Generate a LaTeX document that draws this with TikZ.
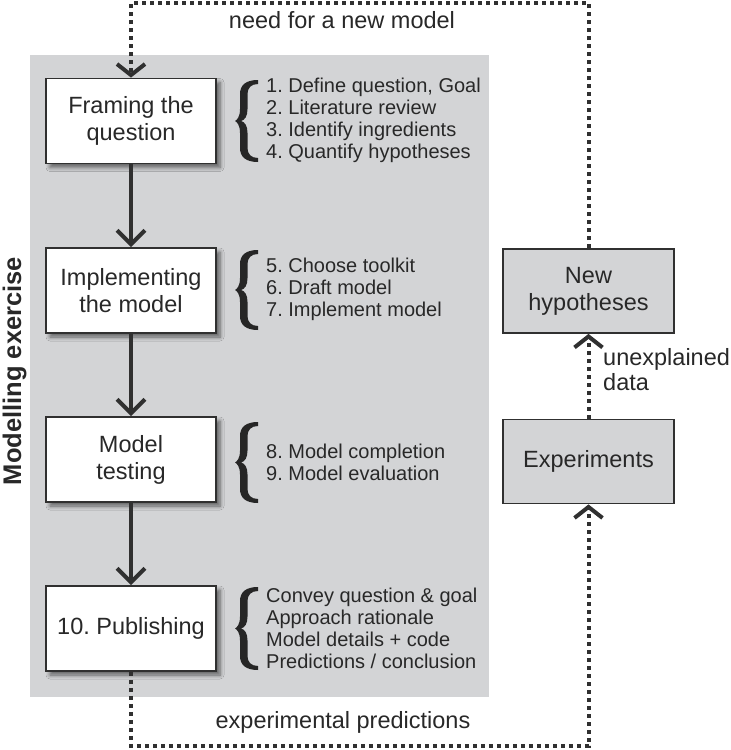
\documentclass[tikz,border=0pt]{standalone}
\usepackage{fontspec}
\setmainfont{Liberation Sans}
\frenchspacing
\usetikzlibrary{arrows.meta,shadows.blur}
\definecolor{bgray}{RGB}{211,212,214}
\definecolor{ink}{RGB}{48,48,48}
\definecolor{txt}{RGB}{40,40,40}
% filled curly brace: #1 = x of tip, #2 = y of middle, #3 = half height
\newcommand{\mybrace}[3]{%
  \fill[black!85, shift={(#1,#2)}]
    (23,-#3) .. controls (11,-#3) and (5,-#3+5) .. (5,-#3+14)
    -- (5,-12) .. controls (5,-4) and (2,-1) .. (0,0)
    .. controls (2,1) and (5,4) .. (5,12)
    -- (5,#3-14) .. controls (5,#3-5) and (11,#3) .. (23,#3)
    -- (23,#3-4) .. controls (16,#3-4) and (12.5,#3-8) .. (12.5,#3-14)
    -- (12.5,12) .. controls (12.5,5) and (10,1) .. (6,0)
    .. controls (10,-1) and (12.5,-5) .. (12.5,-12)
    -- (12.5,-#3+14) .. controls (12.5,-#3+8) and (16,-#3+4) .. (23,-#3+4)
    -- cycle;}
\begin{document}
\begin{tikzpicture}[x=1pt,y=-1pt,
  stepbox/.style={draw=ink, line width=1.8pt, fill=white, minimum width=170pt, minimum height=85pt,
    inner sep=0pt, align=center, font=\fontsize{23.5}{27}\selectfont, text=txt,
    blur shadow={shadow xshift=4pt, shadow yshift=-4pt, shadow blur steps=6, shadow blur radius=4pt, shadow opacity=55}},
  sidebox/.style={draw=ink, line width=1.8pt, fill=bgray, minimum width=171pt, minimum height=84pt,
    inner sep=0pt, align=center, font=\fontsize{23.5}{27}\selectfont, text=txt},
  listtext/.style={anchor=west, align=left, inner sep=0pt, font=\fontsize{20}{22}\selectfont, text=txt},
  lbl/.style={inner sep=0pt, font=\fontsize{23.5}{25}\selectfont, text=txt},
  flow/.style={draw=ink, line width=4pt, -{Straight Barb[length=14pt,width=28pt,line width=4pt]}},
  dotline/.style={draw=ink, line width=4pt, dash pattern=on 4pt off 4pt},
  dotarrow/.style={dotline, -{Straight Barb[length=11pt,width=28pt,line width=4pt]}}
]
\useasboundingbox (0,0) rectangle (731,750);
% background panel
\fill[bgray] (30,55) rectangle (489,697);

% main boxes
\node[stepbox] (frame) at (131,121) {Framing the\\question};
\node[stepbox] (impl) at (131,290.5) {Implementing\\the model};
\node[stepbox] (test) at (131,459.5) {Model\\testing};
\node[stepbox] (pub) at (131,628.5) {10. Publishing};

% side boxes
\node[sidebox] (newh) at (588.5,291) {New\\hypotheses};
\node[sidebox] (exp) at (588.5,461.5) {Experiments};

% flow arrows
\draw[flow] (frame.south) -- (impl.north);
\draw[flow] (impl.south) -- (test.north);
\draw[flow] (test.south) -- (pub.north);

% braces
\mybrace{235}{121}{41}
\mybrace{235}{290}{40}
\mybrace{235}{462.5}{40.5}
\mybrace{235}{628.5}{41.5}

% lists
\node[listtext] (l1) at (266,120) {1. Define question, Goal\\2. Literature review\\3. Identify ingredients\\4. Quantify hypotheses};
\node[listtext] (l2) at (266,289) {5. Choose toolkit\\6. Draft model\\7. Implement model};
\node[listtext] (l3) at (266,462) {8. Model completion\\9. Model evaluation};
\node[listtext] (l4) at (266,628) {Convey question \& goal\\Approach rationale\\Model details + code\\Predictions / conclusion};

% side label
\node[rotate=90, anchor=base, inner sep=0pt, text=txt, font=\fontsize{25.5}{30}\selectfont\bfseries] (me) at (21,371) {Modelling exercise};

% dotted loop
\coordinate (tl) at (131,3);
\coordinate (bl) at (131,746);
\coordinate (br) at (588.5,746);
\draw[dotarrow] (newh.north) |- (tl) -- (frame.north);
\draw[dotarrow] (pub.south) -- (bl) -- (br) -- (exp.south);
\draw[dotarrow] (exp.north) -- (newh.south);

% labels
\node[lbl] (need) at (342,20) {need for a new model};
\node[lbl] (pred) at (343,722) {experimental predictions};
\node[lbl, anchor=west, align=left] (unex) at (603,369.5) {unexplained\\data};
\end{tikzpicture}
\end{document}
